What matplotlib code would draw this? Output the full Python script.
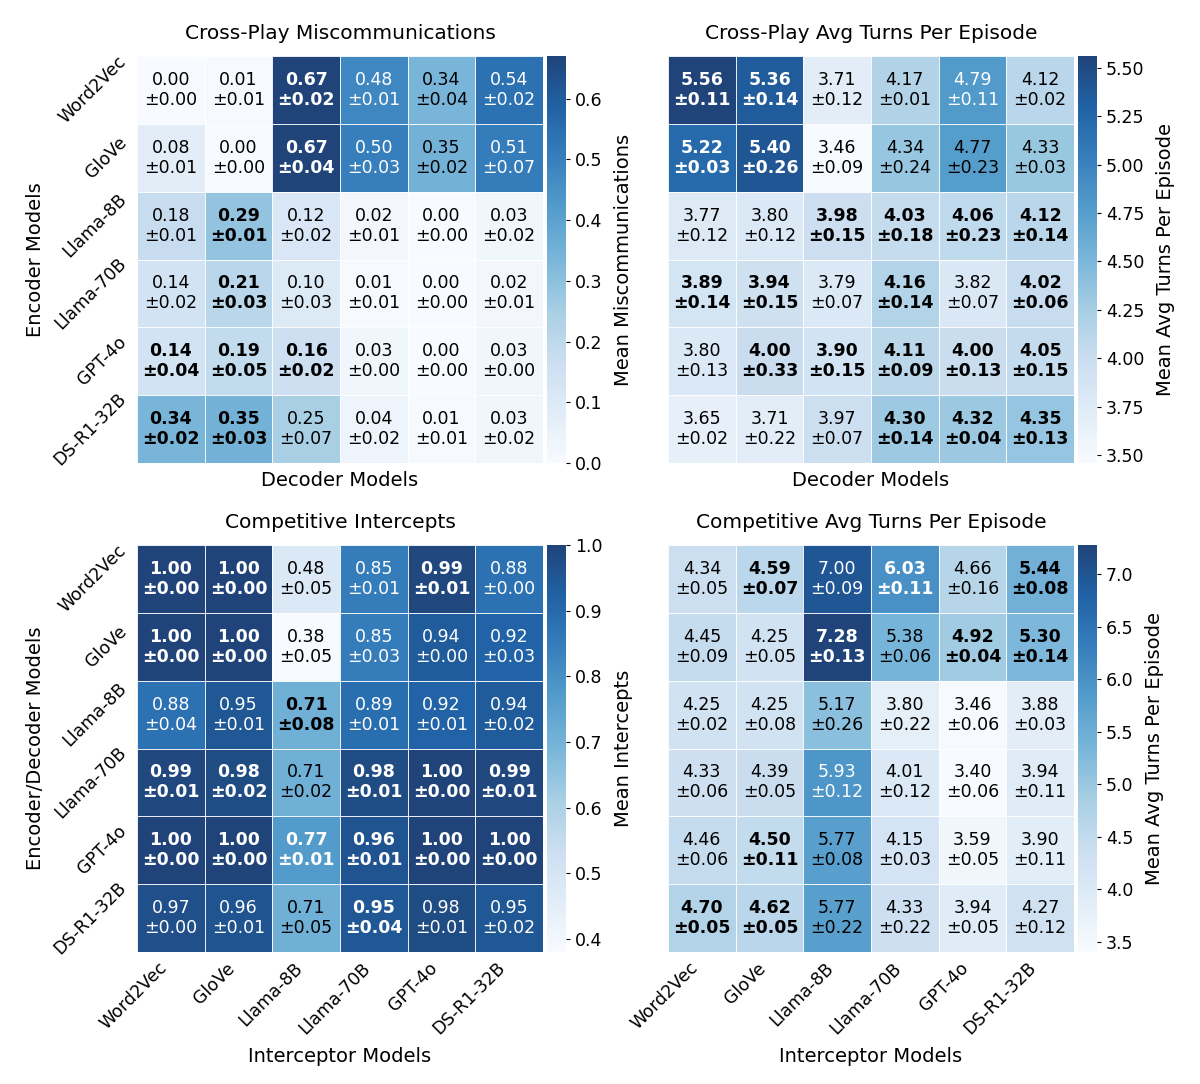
import matplotlib
matplotlib.use("Agg")
import matplotlib.pyplot as plt
import numpy as np
import seaborn as sns

models = ["Word2Vec", "GloVe", "Llama-8B", "Llama-70B", "GPT-4o", "DS-R1-32B"]

# cross-play miscommunications (encoder rows, decoder cols)
miscomm_mean = [[0.00, 0.01, 0.67, 0.48, 0.34, 0.54],
                [0.08, 0.00, 0.67, 0.50, 0.35, 0.51],
                [0.18, 0.29, 0.12, 0.02, 0.00, 0.03],
                [0.14, 0.21, 0.10, 0.01, 0.00, 0.02],
                [0.14, 0.19, 0.16, 0.03, 0.00, 0.03],
                [0.34, 0.35, 0.25, 0.04, 0.01, 0.03]]
miscomm_std = [[0.00, 0.01, 0.02, 0.01, 0.04, 0.02],
               [0.01, 0.00, 0.04, 0.03, 0.02, 0.07],
               [0.01, 0.01, 0.02, 0.01, 0.00, 0.02],
               [0.02, 0.03, 0.03, 0.01, 0.00, 0.01],
               [0.04, 0.05, 0.02, 0.00, 0.00, 0.00],
               [0.02, 0.03, 0.07, 0.02, 0.01, 0.02]]
miscomm_bold = [[0, 0, 1, 0, 0, 0],
                [0, 0, 1, 0, 0, 0],
                [0, 1, 0, 0, 0, 0],
                [0, 1, 0, 0, 0, 0],
                [1, 1, 1, 0, 0, 0],
                [1, 1, 0, 0, 0, 0]]

# cross-play avg turns
xturns_mean = [[5.56, 5.36, 3.71, 4.17, 4.79, 4.12],
               [5.22, 5.40, 3.46, 4.34, 4.77, 4.33],
               [3.77, 3.80, 3.98, 4.03, 4.06, 4.12],
               [3.89, 3.94, 3.79, 4.16, 3.82, 4.02],
               [3.80, 4.00, 3.90, 4.11, 4.00, 4.05],
               [3.65, 3.71, 3.97, 4.30, 4.32, 4.35]]
xturns_std = [[0.11, 0.14, 0.12, 0.01, 0.11, 0.02],
              [0.03, 0.26, 0.09, 0.24, 0.23, 0.03],
              [0.12, 0.12, 0.15, 0.18, 0.23, 0.14],
              [0.14, 0.15, 0.07, 0.14, 0.07, 0.06],
              [0.13, 0.33, 0.15, 0.09, 0.13, 0.15],
              [0.02, 0.22, 0.07, 0.14, 0.04, 0.13]]
xturns_bold = [[1, 1, 0, 0, 0, 0],
               [1, 1, 0, 0, 0, 0],
               [0, 0, 1, 1, 1, 1],
               [1, 1, 0, 1, 0, 1],
               [0, 1, 1, 1, 1, 1],
               [0, 0, 0, 1, 1, 1]]

# competitive intercepts (encoder/decoder rows, interceptor cols)
icept_mean = [[1.00, 1.00, 0.48, 0.85, 0.99, 0.88],
              [1.00, 1.00, 0.38, 0.85, 0.94, 0.92],
              [0.88, 0.95, 0.71, 0.89, 0.92, 0.94],
              [0.99, 0.98, 0.71, 0.98, 1.00, 0.99],
              [1.00, 1.00, 0.77, 0.96, 1.00, 1.00],
              [0.97, 0.96, 0.71, 0.95, 0.98, 0.95]]
icept_std = [[0.00, 0.00, 0.05, 0.01, 0.01, 0.00],
             [0.00, 0.00, 0.05, 0.03, 0.00, 0.03],
             [0.04, 0.01, 0.08, 0.01, 0.01, 0.02],
             [0.01, 0.02, 0.02, 0.01, 0.00, 0.01],
             [0.00, 0.00, 0.01, 0.01, 0.00, 0.00],
             [0.00, 0.01, 0.05, 0.04, 0.01, 0.02]]
icept_bold = [[1, 1, 0, 0, 1, 0],
              [1, 1, 0, 0, 0, 0],
              [0, 0, 1, 0, 0, 0],
              [1, 1, 0, 1, 1, 1],
              [1, 1, 1, 1, 1, 1],
              [0, 0, 0, 1, 0, 0]]

# competitive avg turns
cturns_mean = [[4.34, 4.59, 7.00, 6.03, 4.66, 5.44],
               [4.45, 4.25, 7.28, 5.38, 4.92, 5.30],
               [4.25, 4.25, 5.17, 3.80, 3.46, 3.88],
               [4.33, 4.39, 5.93, 4.01, 3.40, 3.94],
               [4.46, 4.50, 5.77, 4.15, 3.59, 3.90],
               [4.70, 4.62, 5.77, 4.33, 3.94, 4.27]]
cturns_std = [[0.05, 0.07, 0.09, 0.11, 0.16, 0.08],
              [0.09, 0.05, 0.13, 0.06, 0.04, 0.14],
              [0.02, 0.08, 0.26, 0.22, 0.06, 0.03],
              [0.06, 0.05, 0.12, 0.12, 0.06, 0.11],
              [0.06, 0.11, 0.08, 0.03, 0.05, 0.11],
              [0.05, 0.05, 0.22, 0.22, 0.05, 0.12]]
cturns_bold = [[0, 1, 0, 1, 0, 1],
               [0, 0, 1, 0, 1, 1],
               [0, 0, 0, 0, 0, 0],
               [0, 0, 0, 0, 0, 0],
               [0, 1, 0, 0, 0, 0],
               [1, 1, 0, 0, 0, 0]]

fig = plt.figure(figsize=(12, 10.84), dpi=100)

W, H = 1200.0, 1084.0
def box(x0, y0, x1, y1):
    return [x0 / W, 1 - y1 / H, (x1 - x0) / W, (y1 - y0) / H]

panels = [
    (miscomm_mean, miscomm_std, miscomm_bold, "Cross-Play Miscommunications",
     "Mean Miscommunications", "Decoder Models", "Encoder Models", 137, 56, False),
    (xturns_mean, xturns_std, xturns_bold, "Cross-Play Avg Turns Per Episode",
     "Mean Avg Turns Per Episode", "Decoder Models", None, 668, 56, False),
    (icept_mean, icept_std, icept_bold, "Competitive Intercepts",
     "Mean Intercepts", "Interceptor Models", "Encoder/Decoder Models", 137, 545, True),
    (cturns_mean, cturns_std, cturns_bold, "Competitive Avg Turns Per Episode",
     "Mean Avg Turns Per Episode", "Interceptor Models", None, 668, 545, True),
]

for mean, std, bold, title, clabel, xlab, ylab, x0, y0, xticks in panels:
    mean = np.array(mean)
    std = np.array(std)
    labels = np.array([["%.2f\n\u00b1%.2f" % (m, s) for m, s in zip(rm, rs)]
                       for rm, rs in zip(mean, std)])
    ax = fig.add_axes(box(x0, y0, x0 + 406, y0 + 407))
    cax = fig.add_axes(box(x0 + 410, y0, x0 + 429, y0 + 407))
    sns.heatmap(mean, ax=ax, cbar_ax=cax, cmap="Blues", alpha=0.9,
                annot=labels, fmt="",
                annot_kws={"fontsize": 12.5, "linespacing": 1.15},
                linewidths=0.7, linecolor="white",
                xticklabels=models if xticks else False,
                yticklabels=models if ylab else False)
    lo, hi = mean.min(), mean.max()
    for k, t in enumerate(ax.texts):
        i, j = divmod(k, 6)
        if bold[i][j]:
            t.set_fontweight("bold")
        frac = (mean[i, j] - lo) / (hi - lo)
        t.set_color("white" if frac > 0.627 else "black")
    ax.set_title(title, fontsize=14.5, pad=12)
    ax.set_xlabel(xlab, fontsize=14, labelpad=6)
    if ylab:
        ax.set_ylabel(ylab, fontsize=14, labelpad=4)
        ax.set_yticklabels(models, rotation=45, ha="right", va="center",
                           fontsize=12.5)
    if xticks:
        ax.set_xticklabels(models, rotation=45, ha="right", va="top",
                           fontsize=12.5)
    ax.tick_params(length=0, pad=5)
    cax.tick_params(labelsize=12.5, length=3, width=0.8)
    cax.set_ylabel(clabel, fontsize=14, labelpad=8)

fig.savefig("out.png", dpi=100)
